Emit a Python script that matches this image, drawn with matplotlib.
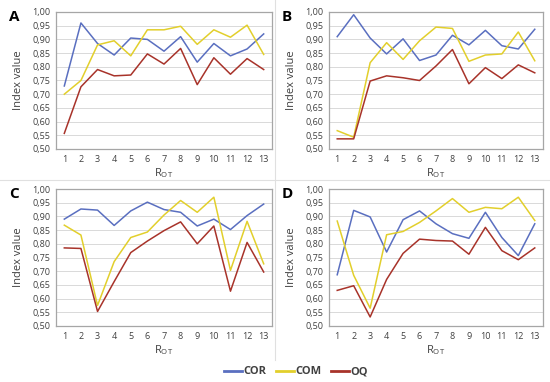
import matplotlib
matplotlib.use("Agg")
import matplotlib.pyplot as plt
from matplotlib.ticker import FuncFormatter
from matplotlib.lines import Line2D

plt.rcParams['font.family'] = ['Open Sans', 'DejaVu Sans']

x = list(range(1, 14))

A_COR = [0.730, 0.960, 0.885, 0.843, 0.905, 0.900, 0.857, 0.910, 0.817, 0.885, 0.840, 0.865, 0.920]
A_COM = [0.700, 0.750, 0.880, 0.895, 0.840, 0.935, 0.935, 0.948, 0.882, 0.935, 0.908, 0.952, 0.845]
A_OQ = [0.557, 0.727, 0.790, 0.767, 0.770, 0.847, 0.810, 0.867, 0.735, 0.833, 0.773, 0.830, 0.790]

B_COR = [0.910, 0.990, 0.905, 0.847, 0.902, 0.823, 0.843, 0.915, 0.880, 0.933, 0.877, 0.865, 0.937]
B_COM = [0.567, 0.543, 0.815, 0.888, 0.827, 0.895, 0.945, 0.940, 0.820, 0.843, 0.847, 0.927, 0.822]
B_OQ = [0.537, 0.537, 0.748, 0.767, 0.760, 0.750, 0.803, 0.863, 0.738, 0.797, 0.757, 0.807, 0.778]

C_COR = [0.890, 0.927, 0.923, 0.867, 0.920, 0.952, 0.925, 0.915, 0.865, 0.890, 0.852, 0.903, 0.945]
C_COM = [0.868, 0.832, 0.575, 0.735, 0.823, 0.843, 0.905, 0.958, 0.915, 0.970, 0.703, 0.882, 0.727]
C_OQ = [0.785, 0.783, 0.553, 0.662, 0.768, 0.810, 0.848, 0.880, 0.800, 0.865, 0.627, 0.805, 0.697]

D_COR = [0.687, 0.922, 0.898, 0.770, 0.888, 0.920, 0.873, 0.837, 0.820, 0.915, 0.823, 0.757, 0.873]
D_COM = [0.883, 0.685, 0.565, 0.833, 0.845, 0.878, 0.920, 0.965, 0.915, 0.933, 0.928, 0.970, 0.885]
D_OQ = [0.630, 0.647, 0.533, 0.670, 0.765, 0.817, 0.812, 0.810, 0.762, 0.860, 0.775, 0.742, 0.785]

panels = [("A", A_COR, A_COM, A_OQ), ("B", B_COR, B_COM, B_OQ),
          ("C", C_COR, C_COM, C_OQ), ("D", D_COR, D_COM, D_OQ)]

C1 = "#5a6fc0"
C2 = "#e2cf2c"
C3 = "#a8332a"

W, H = 550, 382
fig = plt.figure(figsize=(5.5, 3.82), dpi=100)

rects = [(56, 12, 272, 149), (329, 12, 543, 149), (56, 189, 272, 326), (329, 189, 543, 326)]
letter_pos = [(14, 17), (287, 17), (14, 194), (287, 194)]

fmt = FuncFormatter(lambda v, p: f"{v:.2f}".replace(".", ","))

for (name, cor, com, oq), (l, t, r, b), (lx, ly) in zip(panels, rects, letter_pos):
    ax = fig.add_axes([l / W, 1 - b / H, (r - l) / W, (b - t) / H])
    ax.plot(x, cor, color=C1, lw=1.1)
    ax.plot(x, com, color=C2, lw=1.1)
    ax.plot(x, oq, color=C3, lw=1.1)
    ax.set_xlim(0.5, 13.5)
    ax.set_ylim(0.5, 1.0)
    ax.set_xticks(x)
    ax.set_yticks([0.5 + 0.05 * i for i in range(11)])
    ax.yaxis.set_major_formatter(fmt)
    ax.tick_params(length=0, labelsize=6.5, colors="#404040", pad=4)
    ax.grid(axis="y", color="#d9d9d9", lw=0.7)
    ax.set_axisbelow(True)
    for s in ax.spines.values():
        s.set_color("#a6a6a6")
        s.set_linewidth(0.9)
    ax.set_ylabel("Index value", fontsize=8, color="#404040", labelpad=6)
    ax.set_xlabel("R$_{\\mathregular{OT}}$", fontsize=8, color="#404040", labelpad=2)
    fig.text(lx / W, 1 - ly / H, name, fontsize=11, fontweight="bold", ha="center", va="center", color="#000000")

# separators
fig.add_artist(Line2D([275 / W, 275 / W], [1 - 0 / H, 1 - 360 / H], color="#e0e0e0", lw=0.8))
fig.add_artist(Line2D([0, 1], [1 - 180 / H, 1 - 180 / H], color="#e0e0e0", lw=0.8))

handles = [Line2D([], [], color=C1, lw=2), Line2D([], [], color=C2, lw=2), Line2D([], [], color=C3, lw=2)]
fig.legend(handles, ["COR", "COM", "OQ"], loc="center", bbox_to_anchor=(296 / W, 1 - 372 / H),
           ncol=3, frameon=False, handlelength=1.6, handletextpad=0.1, columnspacing=0.9,
           prop={"size": 8, "weight": "bold"}, labelcolor="#404040")

fig.savefig("out.png", dpi=100)
